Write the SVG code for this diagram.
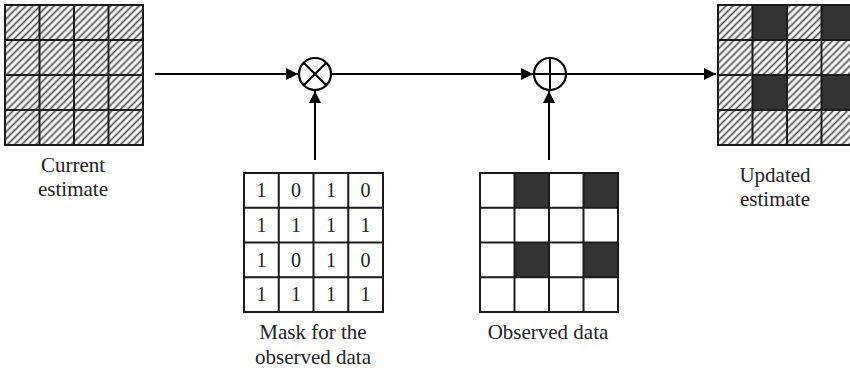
<svg xmlns="http://www.w3.org/2000/svg" width="850" height="376" viewBox="0 0 850 376">
<style>
.grid{fill:none;stroke:#1a1a1a;stroke-width:2}
.dark{fill:#333}
.conn{stroke:#000;stroke-width:2;fill:none}
.op{fill:#fff;stroke:#000;stroke-width:2.2}
.lbl{font-family:"Liberation Serif",serif;font-size:21px;fill:#222;text-anchor:middle}
.num{font-family:"Liberation Serif",serif;font-size:20px;fill:#222;text-anchor:middle}
</style>
<defs>
<pattern id="hatch" patternUnits="userSpaceOnUse" width="5" height="5" patternTransform="rotate(-45)">
<rect width="5" height="5" fill="#fff"/>
<line x1="0" y1="2.5" x2="5" y2="2.5" stroke="#555" stroke-width="1.8"/>
</pattern>
<marker id="arrU" markerWidth="12" markerHeight="12" refX="12" refY="6" orient="auto" markerUnits="userSpaceOnUse" viewBox="0 0 12 12">
<path d="M0,0 L12,6 L0,12 Z" fill="#000"/>
</marker>
</defs>

<g id="current-estimate">
<rect x="5" y="5" width="138" height="140" fill="url(#hatch)"/>
<path class="grid" d="M5,5H143V145H5Z M39.5,5V145 M74,5V145 M108.5,5V145 M5,40H143 M5,75H143 M5,110H143"/>
<text class="lbl" x="73" y="172">Current</text>
<text class="lbl" x="73" y="196">estimate</text>
</g>

<g id="multiply">
<circle class="op" cx="315" cy="74" r="16"/>
<path class="conn" d="M303.7,62.7L326.3,85.3 M326.3,62.7L303.7,85.3"/>
</g>

<g id="add">
<circle class="op" cx="550" cy="74" r="16"/>
<path class="conn" d="M534,74H566 M550,58V90"/>
</g>

<g id="mask">
<path class="grid" d="M244,173H383V312H244Z M278.75,173V312 M313.5,173V312 M348.25,173V312 M244,207.75H383 M244,242.5H383 M244,277.25H383"/>
<g class="num">
<text x="261.4" y="197">1</text><text x="296.1" y="197">0</text><text x="330.9" y="197">1</text><text x="365.6" y="197">0</text>
<text x="261.4" y="231.8">1</text><text x="296.1" y="231.8">1</text><text x="330.9" y="231.8">1</text><text x="365.6" y="231.8">1</text>
<text x="261.4" y="266.5">1</text><text x="296.1" y="266.5">0</text><text x="330.9" y="266.5">1</text><text x="365.6" y="266.5">0</text>
<text x="261.4" y="301.3">1</text><text x="296.1" y="301.3">1</text><text x="330.9" y="301.3">1</text><text x="365.6" y="301.3">1</text>
</g>
<text class="lbl" x="313" y="339">Mask for the</text>
<text class="lbl" x="313" y="364">observed data</text>
</g>

<g id="observed">
<rect x="480" y="173" width="138" height="139" fill="#fff"/>
<rect class="dark" x="514.5" y="173" width="34.5" height="34.75"/>
<rect class="dark" x="583.5" y="173" width="34.5" height="34.75"/>
<rect class="dark" x="514.5" y="242.5" width="34.5" height="34.75"/>
<rect class="dark" x="583.5" y="242.5" width="34.5" height="34.75"/>
<path class="grid" d="M480,173H618V312H480Z M514.5,173V312 M549,173V312 M583.5,173V312 M480,207.75H618 M480,242.5H618 M480,277.25H618"/>
<text class="lbl" x="548" y="339">Observed data</text>
</g>

<g id="updated-estimate">
<rect x="718" y="5" width="138" height="140" fill="url(#hatch)"/>
<rect class="dark" x="752.5" y="5" width="34.5" height="35"/>
<rect class="dark" x="821.5" y="5" width="34.5" height="35"/>
<rect class="dark" x="752.5" y="75" width="34.5" height="35"/>
<rect class="dark" x="821.5" y="75" width="34.5" height="35"/>
<path class="grid" d="M718,5H856V145H718Z M752.5,5V145 M787,5V145 M821.5,5V145 M718,40H856 M718,75H856 M718,110H856"/>
<text class="lbl" x="775" y="182">Updated</text>
<text class="lbl" x="775" y="206">estimate</text>
</g>

<g id="connectors">
<line class="conn" x1="155" y1="74" x2="298" y2="74" marker-end="url(#arrU)"/>
<line class="conn" x1="331" y1="74" x2="533" y2="74" marker-end="url(#arrU)"/>
<line class="conn" x1="566" y1="74" x2="716" y2="74" marker-end="url(#arrU)"/>
<line class="conn" x1="315" y1="160" x2="315" y2="91" marker-end="url(#arrU)"/>
<line class="conn" x1="549" y1="160" x2="549" y2="91" marker-end="url(#arrU)"/>
</g>
</svg>
